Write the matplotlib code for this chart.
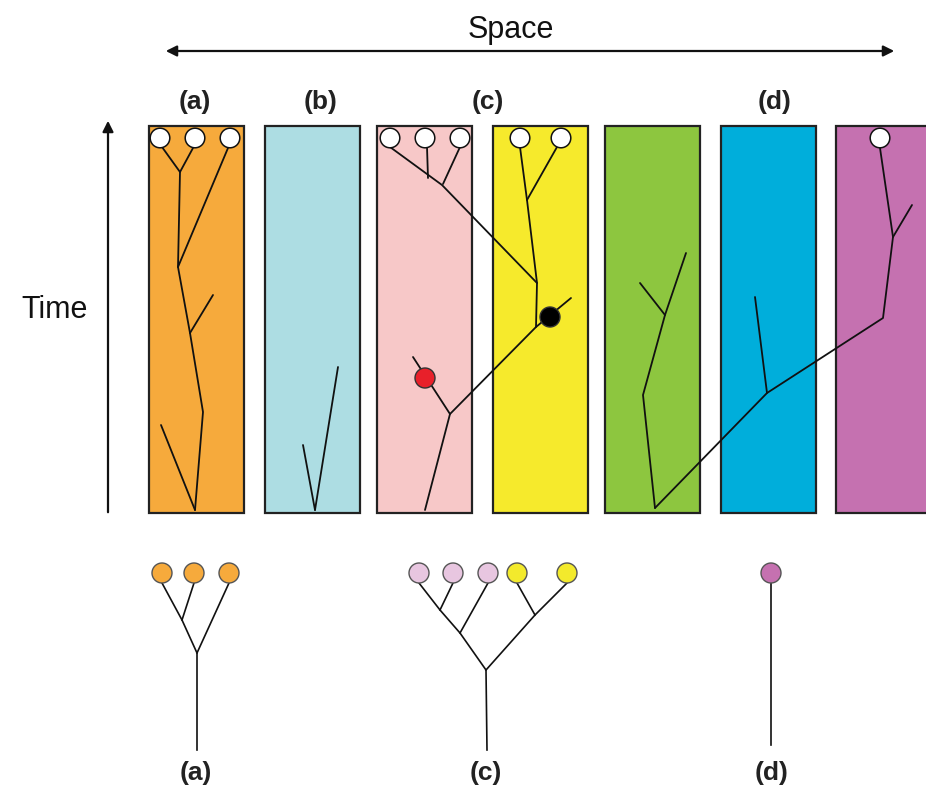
import matplotlib
matplotlib.use("Agg")
import matplotlib.pyplot as plt
from matplotlib.patches import Rectangle, Circle, FancyArrowPatch

# ---- data (diagram coordinates, pixel space of the original figure) ----
box_lefts = [149, 265, 377, 493, 605, 721, 836]
box_colors = ["#F6AA3C", "#ADDDE3", "#F7C8C8", "#F6EA2C", "#8DC63F", "#00AEDB", "#C571B0"]
box_top, box_bottom, box_width = 126, 513, 95

top_labels = ["(a)", "(b)", "(c)", "(d)"]
top_label_x = [195, 321, 488, 775]
bottom_labels = ["(a)", "(c)", "(d)"]
bottom_label_x = [196, 486, 772]

# lineages inside the space-time panels (polylines)
lineages = [
    [(162, 147), (180, 172), (178, 267), (190, 333), (203, 412), (195, 510)],
    [(193, 148), (180, 172)],
    [(228, 148), (178, 267)],
    [(190, 333), (213, 295)],
    [(195, 510), (161, 425)],
    [(315, 510), (338, 367)],
    [(315, 510), (303, 445)],
    [(390, 147), (442, 185), (537, 283)],
    [(427, 147), (428, 178)],
    [(460, 147), (443, 184)],
    [(520, 147), (527, 200), (537, 283), (536, 327), (450, 414), (425, 510)],
    [(557, 147), (527, 200)],
    [(536, 327), (571, 298)],
    [(450, 414), (413, 357)],
    [(880, 148), (893, 237), (883, 318), (767, 393), (655, 508)],
    [(893, 237), (912, 205)],
    [(767, 393), (755, 297)],
    [(655, 508), (643, 395), (665, 315), (686, 253)],
    [(665, 315), (640, 283)],
]
sample_x = [160, 195, 230, 390, 425, 460, 520, 561, 880]
sample_y = 138
event_pts = [(425, 378), (550, 317)]
event_colors = ["#E8202A", "#000000"]

# reconstructed genealogies (bottom)
tree_edges = [
    [(162, 583), (182, 620), (197, 653), (197, 750)],
    [(194, 583), (182, 620)],
    [(229, 583), (197, 653)],
    [(419, 583), (440, 610), (460, 633), (486, 670), (487, 750)],
    [(453, 583), (440, 610)],
    [(488, 583), (460, 633)],
    [(517, 583), (535, 615), (486, 670)],
    [(567, 583), (535, 615)],
    [(771, 583), (771, 745)],
]
tree_tip_x = [162, 194, 229, 419, 453, 488, 517, 567, 771]
tree_tip_colors = ["#F6AA3C"] * 3 + ["#E8C6E0"] * 3 + ["#F3EA2C"] * 2 + ["#C571B0"]
tree_tip_y = 573

# ---- drawing ----
fig = plt.figure(figsize=(9.26, 7.90), dpi=100)
ax = fig.add_axes([0, 0, 1, 1])
ax.set_xlim(0, 926)
ax.set_ylim(790, 0)
ax.axis("off")

for x0, c in zip(box_lefts, box_colors):
    ax.add_patch(Rectangle((x0, box_top), box_width, box_bottom - box_top,
                           facecolor=c, edgecolor="#222222", lw=1.6, zorder=1))

for line in lineages:
    xs, ys = zip(*line)
    ax.plot(xs, ys, color="#111111", lw=1.3, zorder=3, solid_capstyle="round")

for sx in sample_x:
    ax.add_patch(Circle((sx, sample_y), 9.8, facecolor="white", edgecolor="#111111",
                        lw=1.1, zorder=5))

for (ex, ey), c in zip(event_pts, event_colors):
    ax.add_patch(Circle((ex, ey), 10, facecolor=c, edgecolor="#333333", lw=1.0, zorder=5))

for line in tree_edges:
    xs, ys = zip(*line)
    ax.plot(xs, ys, color="#111111", lw=1.2, zorder=3)

for tx, c in zip(tree_tip_x, tree_tip_colors):
    ax.add_patch(Circle((tx, tree_tip_y), 10, facecolor=c, edgecolor="#555555",
                        lw=1.0, zorder=5))

font = ["Liberation Sans", "DejaVu Sans"]
for lab, x in zip(top_labels, top_label_x):
    ax.text(x, 102, lab, ha="center", va="center", fontsize=19, fontweight="bold",
            family=font, color="#222222")
for lab, x in zip(bottom_labels, bottom_label_x):
    ax.text(x, 773, lab, ha="center", va="center", fontsize=19, fontweight="bold",
            family=font, color="#222222")

ax.text(511, 38, "Space", ha="center", va="baseline", fontsize=22, family=font, color="#111111")
ax.text(55, 318, "Time", ha="center", va="baseline", fontsize=22, family=font, color="#111111")

ax.add_patch(FancyArrowPatch((163, 51), (897, 51), arrowstyle="<|-|>", mutation_scale=16,
                             lw=1.6, color="#111111"))
ax.add_patch(FancyArrowPatch((108, 515), (108, 118), arrowstyle="-|>", mutation_scale=16,
                             lw=1.6, color="#111111"))

fig.savefig("out.png", dpi=100)
